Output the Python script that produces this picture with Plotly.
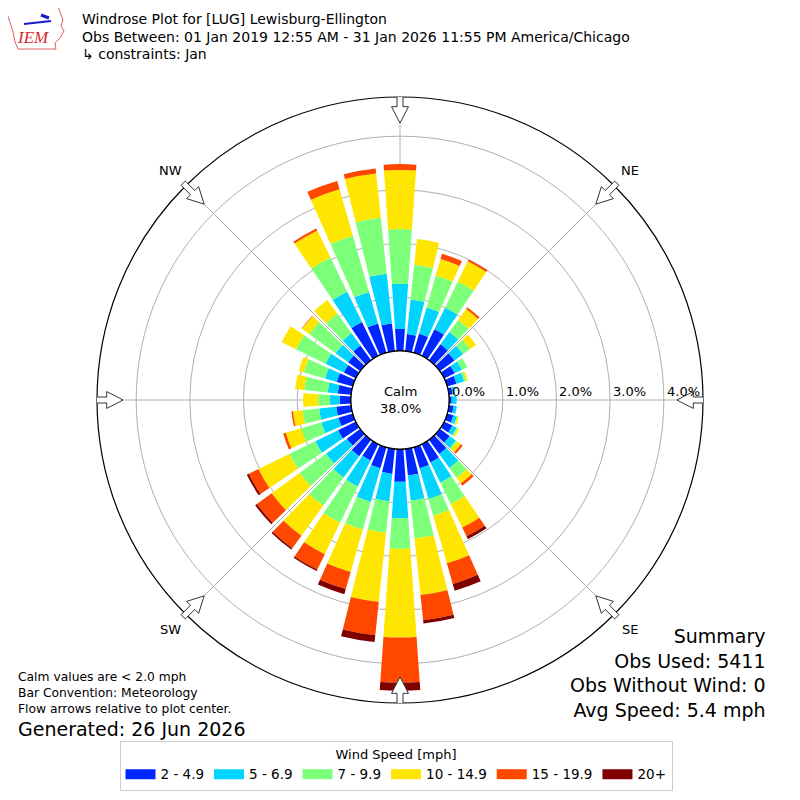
import numpy as np
import plotly.graph_objects as go

# wind directions (deg, meteorological) and speed bins
directions = list(range(0, 360, 10))
speed_bins = ["2 - 4.9", "5 - 6.9", "7 - 9.9", "10 - 14.9", "15 - 19.9", "20+"]
bin_colors = ["#0026ff", "#00d4ff", "#7cff79", "#ffe600", "#ff4700", "#800000"]

# frequency (%) per direction for each speed bin
spd_2_5 = [0.41, 0.32, 0.37, 0.55, 0.37, 0.34, 0.22, 0.18, 0.07, 0.05, 0.09, 0.12,
           0.17, 0.23, 0.33, 0.38, 0.41, 0.50, 0.61, 0.47, 0.41, 0.34, 0.38, 0.31,
           0.37, 0.28, 0.28, 0.21, 0.25, 0.31, 0.25, 0.28, 0.34, 0.70, 0.57, 0.52]
spd_5_7 = [0.84, 0.65, 0.51, 0.45, 0.28, 0.20, 0.15, 0.15, 0.05, 0.09, 0.06, 0.07,
           0.09, 0.14, 0.32, 0.42, 0.59, 0.47, 0.68, 0.51, 0.65, 0.54, 0.49, 0.48,
           0.47, 0.33, 0.32, 0.18, 0.19, 0.23, 0.38, 0.29, 0.28, 0.63, 0.61, 0.93]
spd_7_10 = [1.02, 0.65, 0.62, 0.54, 0.28, 0.16, 0.11, 0.04, 0.00, 0.00, 0.00, 0.01,
            0.02, 0.03, 0.23, 0.44, 0.33, 0.71, 0.57, 0.59, 0.54, 0.75, 0.65, 0.61,
            0.54, 0.39, 0.31, 0.22, 0.44, 0.41, 0.61, 0.61, 0.45, 0.71, 1.09, 1.05]
spd_10_15 = [1.10, 0.48, 0.32, 0.42, 0.25, 0.14, 0.00, 0.03, 0.00, 0.00, 0.00, 0.03,
             0.03, 0.09, 0.13, 0.49, 0.92, 1.06, 1.65, 1.30, 0.82, 0.65, 0.69, 0.64,
             0.64, 0.30, 0.18, 0.28, 0.17, 0.10, 0.30, 0.16, 0.32, 0.56, 0.90, 0.83]
spd_15_20 = [0.11, 0.00, 0.10, 0.04, 0.04, 0.00, 0.00, 0.00, 0.00, 0.00, 0.00, 0.00,
             0.00, 0.04, 0.05, 0.18, 0.40, 0.47, 0.84, 0.62, 0.33, 0.32, 0.29, 0.34,
             0.20, 0.05, 0.03, 0.00, 0.00, 0.00, 0.00, 0.01, 0.00, 0.04, 0.16, 0.09]
spd_20_up = [0.00, 0.00, 0.00, 0.00, 0.00, 0.00, 0.00, 0.00, 0.00, 0.00, 0.00, 0.00,
             0.00, 0.00, 0.00, 0.06, 0.13, 0.06, 0.15, 0.13, 0.10, 0.03, 0.03, 0.04,
             0.04, 0.00, 0.00, 0.00, 0.00, 0.00, 0.00, 0.00, 0.00, 0.00, 0.00, 0.00]
speed_values = [spd_2_5, spd_5_7, spd_7_10, spd_10_15, spd_15_20, spd_20_up]

ring_values = [0, 1, 2, 3, 4]
compass_labels = ["N", "NE", "E", "SE", "S", "SW", "W", "NW"]
compass_angles = [0, 45, 90, 135, 180, 225, 270, 315]

calm_pct = 38.0
summary = ["Summary", "Obs Used: 5411", "Obs Without Wind: 0", "Avg Speed: 5.4 mph"]

FONT = "DejaVu Sans"
RMAX = 4.73           # radial range (%) at the outer circle
HOLE = 0.162          # calm circle, fraction of outer radius
SIZE = 792            # page has an 8px body margin
OFF = 8


def px(x):
    return (x - OFF) / SIZE


def py(y):
    return 1 - (y - OFF) / SIZE


XDOM = [px(97), px(703)]
YDOM = [py(703), py(97)]

fig = go.Figure()

for name, vals, col in zip(speed_bins, speed_values, bin_colors):
    fig.add_trace(go.Barpolar(r=vals, theta=directions, width=8, name=name,
                              marker=dict(color=col, line=dict(width=0)),
                              showlegend=False))
    # legend swatch
    fig.add_trace(go.Scatter(x=[None], y=[None], mode="lines", name=name,
                             line=dict(color=col, width=10), xaxis="x", yaxis="y"))


def rnorm(p):
    return HOLE + p / RMAX * (1 - HOLE)


shapes = []
# flow arrows at the compass points
for a in compass_angles:
    t = np.radians(a)
    u = np.array([np.sin(t), np.cos(t)])
    v = np.array([np.cos(t), -np.sin(t)])
    w, W = 0.0099, 0.028
    pts = [(1.012, -w), (0.968, -w), (0.968, -W), (0.914, 0), (0.968, W), (0.968, w), (1.012, w)]
    xy = [r * u + s * v for r, s in pts]
    path = "M " + " L ".join(f"{p[0]:.4f},{p[1]:.4f}" for p in xy) + " Z"
    shapes.append(dict(type="path", path=path, xref="x", yref="y", layer="above",
                       fillcolor="white", line=dict(color="#333333", width=1)))
# calm circle
shapes.append(dict(type="circle", xref="x", yref="y", x0=-HOLE, x1=HOLE, y0=-HOLE, y1=HOLE,
                   layer="above", fillcolor="white", line=dict(color="black", width=1.2)))

# IEM logo: rough state outline and station glyph
iowa = [(6, 6), (58, 6), (60, 12), (63, 20), (61, 26), (64, 31), (60, 38), (55, 43),
        (56, 49), (18, 49), (15, 42), (13, 32), (10, 22), (7, 14)]
shapes.append(dict(type="path", xref="paper", yref="paper", layer="above",
                   path="M " + " L ".join(f"{px(a):.4f},{py(b):.4f}" for a, b in iowa) + " Z",
                   line=dict(color="#e06060", width=1)))
shapes.append(dict(type="line", xref="paper", yref="paper", x0=px(24), y0=py(24), x1=px(51),
                   y1=py(21), line=dict(color="#1a1acc", width=2)))
shapes.append(dict(type="line", xref="paper", yref="paper", x0=px(41), y0=py(15), x1=px(49),
                   y1=py(18), line=dict(color="#1a1acc", width=3)))

ann = []
for lab, a in zip(compass_labels, compass_angles):
    t = np.radians(a)
    ann.append(dict(x=1.073 * np.sin(t), y=1.073 * np.cos(t), xref="x", yref="y", text=lab,
                    showarrow=False, xanchor="center", yanchor="middle",
                    font=dict(family=FONT, size=13, color="black")))
for p in ring_values:
    ann.append(dict(x=rnorm(p) + 0.003, y=0.027, xref="x", yref="y", text=f"{p:.1f}%",
                    showarrow=False, xanchor="left", yanchor="middle",
                    font=dict(family=FONT, size=13, color="black")))
ann.append(dict(x=0, y=0, xref="x", yref="y", text=f"Calm<br>{calm_pct:.1f}%", showarrow=False,
                xanchor="center", yanchor="middle",
                font=dict(family=FONT, size=13, color="black")))

# header
title_lines = ["Windrose Plot for [LUG] Lewisburg-Ellington",
               "Obs Between: 01 Jan 2019 12:55 AM - 31 Jan 2026 11:55 PM America/Chicago",
               "\u21b3 constraints: Jan"]
for i, line in enumerate(title_lines):
    ann.append(dict(x=px(80), y=py(19 + 17.5 * i), xref="paper", yref="paper",
                    text=line, showarrow=False, xanchor="left", yanchor="middle",
                    font=dict(family=FONT, size=14, color="black")))
ann.append(dict(x=px(33), y=py(38), xref="paper", yref="paper", text="<i>IEM</i>",
                showarrow=False, xanchor="center", yanchor="middle",
                font=dict(family="Liberation Serif", size=17, color="#d42a2a")))

ann.append(dict(x=px(768), y=py(623), xref="paper", yref="paper",
                text="<br>".join(summary), showarrow=False, xanchor="right", yanchor="top",
                align="right", font=dict(family=FONT, size=19, color="black")))
ann.append(dict(x=px(16), y=py(668), xref="paper", yref="paper",
                text="Calm values are < 2.0 mph<br>Bar Convention: Meteorology<br>"
                     "Flow arrows relative to plot center.",
                showarrow=False, xanchor="left", yanchor="top", align="left",
                font=dict(family=FONT, size=12.3, color="black")))
ann.append(dict(x=px(16), y=py(729), xref="paper", yref="paper",
                text="Generated: 26 Jun 2026", showarrow=False, xanchor="left", yanchor="middle",
                font=dict(family=FONT, size=19, color="black")))

fig.update_layout(
    width=SIZE, height=SIZE, autosize=False,
    margin=dict(l=0, r=0, t=0, b=0),
    paper_bgcolor="white", plot_bgcolor="rgba(0,0,0,0)",
    font=dict(family=FONT, size=13, color="black"),
    polar=dict(
        domain=dict(x=XDOM, y=YDOM),
        hole=HOLE, bgcolor="rgba(0,0,0,0)", barmode="stack", bargap=0,
        radialaxis=dict(range=[0, RMAX], tickvals=ring_values[1:], showticklabels=False,
                        ticks="", showline=False, gridcolor="#b0b0b0", gridwidth=1),
        angularaxis=dict(rotation=90, direction="clockwise", tickvals=compass_angles,
                         showticklabels=False, ticks="", gridcolor="#b0b0b0",
                         showline=True, linecolor="black", linewidth=1.2),
    ),
    xaxis=dict(domain=XDOM, range=[-1, 1], visible=False, fixedrange=True),
    yaxis=dict(domain=YDOM, range=[-1, 1], visible=False, fixedrange=True),
    shapes=shapes,
    annotations=ann,
    legend=dict(orientation="h", x=0.5 - OFF / SIZE, xanchor="center", y=py(741), yanchor="top",
                bordercolor="#cccccc", borderwidth=1, bgcolor="white",
                font=dict(family=FONT, size=13.5), itemwidth=30,
                title=dict(text="Wind Speed [mph]", side="top center",
                           font=dict(family=FONT, size=13))),
)

fig.write_html("out.html")
